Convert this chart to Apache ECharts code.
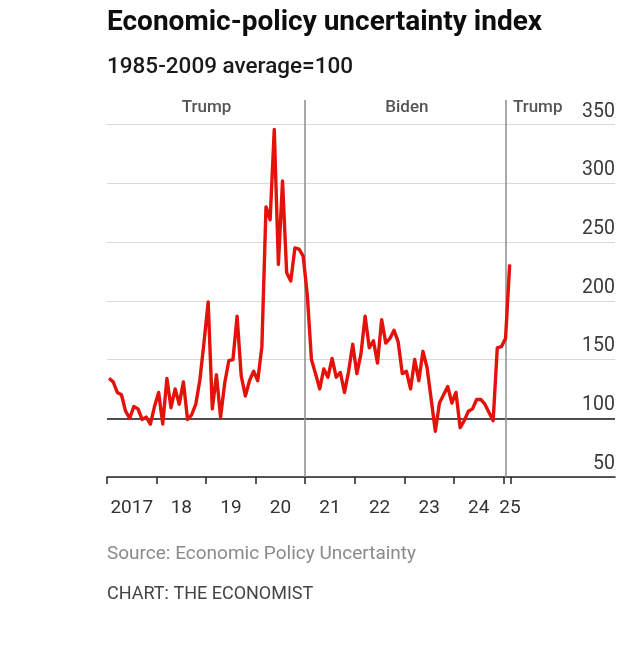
<!DOCTYPE html>
<html><head><meta charset="utf-8">
<script src="https://cdn.jsdelivr.net/npm/echarts@6/dist/echarts.min.js"></script>
<style>html,body{margin:0;padding:0;background:#fff}#c{width:640px;height:647px}</style>
</head><body><div id="c"></div>
<script>
// Monthly index values (1985-2009 average = 100), Jan..Dec of each year
const years = [2017, 2018, 2019, 2020, 2021, 2022, 2023, 2024, 2025];
const v2017 = [134, 131, 122, 120, 106, 100, 110, 108, 99, 101, 95, 110];
const v2018 = [122, 95, 134, 109, 125, 112, 131, 99, 103, 112, 133, 165];
const v2019 = [199, 108, 137, 101, 130, 149, 150, 187, 136, 119, 132, 140];
const v2020 = [132, 161, 280, 269, 346, 231, 302, 224, 217, 245, 244, 238];
const v2021 = [205, 150, 138, 125, 142, 135, 151, 135, 139, 122, 140, 163];
const v2022 = [138, 155, 187, 160, 166, 147, 184, 164, 168, 175, 165, 138];
const v2023 = [140, 125, 150, 132, 157, 143, 116, 89, 113, 120, 127, 113];
const v2024 = [122, 92, 98, 106, 108, 116, 116, 112, 105, 98, 160, 161];
const v2025 = [168, 231];
const valuesByYear = [v2017, v2018, v2019, v2020, v2021, v2022, v2023, v2024, v2025];

// Axis ticks and labels
const yTicks = [50, 100, 150, 200, 250, 300, 350];
const xTickValues = [2017, 2018, 2019, 2020, 2021, 2022, 2023, 2024, 2025, 2025.14];
const xLabelValues = [2017.5, 2018.5, 2019.5, 2020.5, 2021.5, 2022.5, 2023.5, 2024.5, 2025.13];
const xLabelTexts = ['2017', '18', '19', '20', '21', '22', '23', '24', '25'];

// Presidential terms
const termBreaks = [2021.0, 2025.05];
const termLabels = [['Trump', 2019.01], ['Biden', 2023.05], ['Trump', 2025.69]];

const data = [];
valuesByYear.forEach((arr, yi) => {
  arr.forEach((v, m) => data.push([years[yi] + (m + 0.5) / 12, v]));
});

const chart = echarts.init(document.getElementById('c'));
const FONT = 'Roboto';
chart.setOption({
  animation: false,
  backgroundColor: '#fff',
  title: [
    {text: 'Economic-policy uncertainty index', left: 107, top: 9, padding: 0,
     textStyle: {fontFamily: FONT, fontSize: 28, fontWeight: 'bold', color: '#0d0d0d'}},
    {text: '1985-2009 average=100', left: 107, top: 56, padding: 0,
     textStyle: {fontFamily: FONT, fontSize: 22.5, fontWeight: 500, color: '#1a1a1a'}},
    {text: 'Source: Economic Policy Uncertainty', left: 107, top: 545, padding: 0,
     textStyle: {fontFamily: FONT, fontSize: 19, fontWeight: 'normal', color: '#8a8a8a'}},
    {text: 'CHART: THE ECONOMIST', left: 107, top: 585, padding: 0,
     textStyle: {fontFamily: FONT, fontSize: 18, fontWeight: 'normal', color: '#444'}}
  ],
  grid: {left: 107, right: 25, top: 100, bottom: 170},
  xAxis: {
    type: 'value', min: 2017, max: 2027.25,
    axisLine: {show: true, lineStyle: {color: '#222', width: 1.5}},
    axisTick: {show: true, customValues: xTickValues, length: 7, lineStyle: {color: '#222', width: 1.5}},
    axisLabel: {
      customValues: xLabelValues, margin: 22,
      fontFamily: FONT, fontSize: 19, color: '#333',
      formatter: v => {
        const i = xLabelValues.findIndex(p => Math.abs(p - v) < 0.005);
        return i >= 0 ? xLabelTexts[i] : '';
      }
    },
    splitLine: {show: false}
  },
  yAxis: {
    type: 'value', position: 'right', min: 50, max: 371, interval: 50,
    axisLine: {show: false},
    axisTick: {show: false, customValues: yTicks},
    axisLabel: {customValues: yTicks, inside: true, margin: 0, verticalAlign: 'bottom',
      padding: [0, 0, 3, 0], fontFamily: FONT, fontSize: 19.5, color: '#3a3a3a'},
    splitLine: {show: true, lineStyle: {color: '#d9d9d9', width: 1.2}}
  },
  series: [
    {
      type: 'line', name: 'refs', data: [], z: 1,
      markLine: {
        silent: true, symbol: 'none', z: 1, animation: false,
        label: {show: false},
        data: [
          {yAxis: 100, lineStyle: {color: '#1a1a1a', width: 1.5, type: 'solid'}},
          {xAxis: termBreaks[0], lineStyle: {color: '#8c8c8c', width: 1.5, type: 'solid'}},
          {xAxis: termBreaks[1], lineStyle: {color: '#8c8c8c', width: 1.5, type: 'solid'}}
        ]
      },
      markPoint: {
        silent: true, symbol: 'circle', symbolSize: 0, animation: false,
        label: {show: true, position: 'inside', formatter: '{b}',
          fontFamily: FONT, fontSize: 17, fontWeight: 500, color: '#555'},
        data: termLabels.map(t => ({name: t[0], coord: [t[1], 364]}))
      }
    },
    {
      type: 'line', name: 'EPU', data: data, z: 3,
      showSymbol: false, smooth: false,
      lineStyle: {color: '#e3120b', width: 3.4, join: 'round'},
      itemStyle: {color: '#e3120b'}
    }
  ]
});
</script>
</body></html>
